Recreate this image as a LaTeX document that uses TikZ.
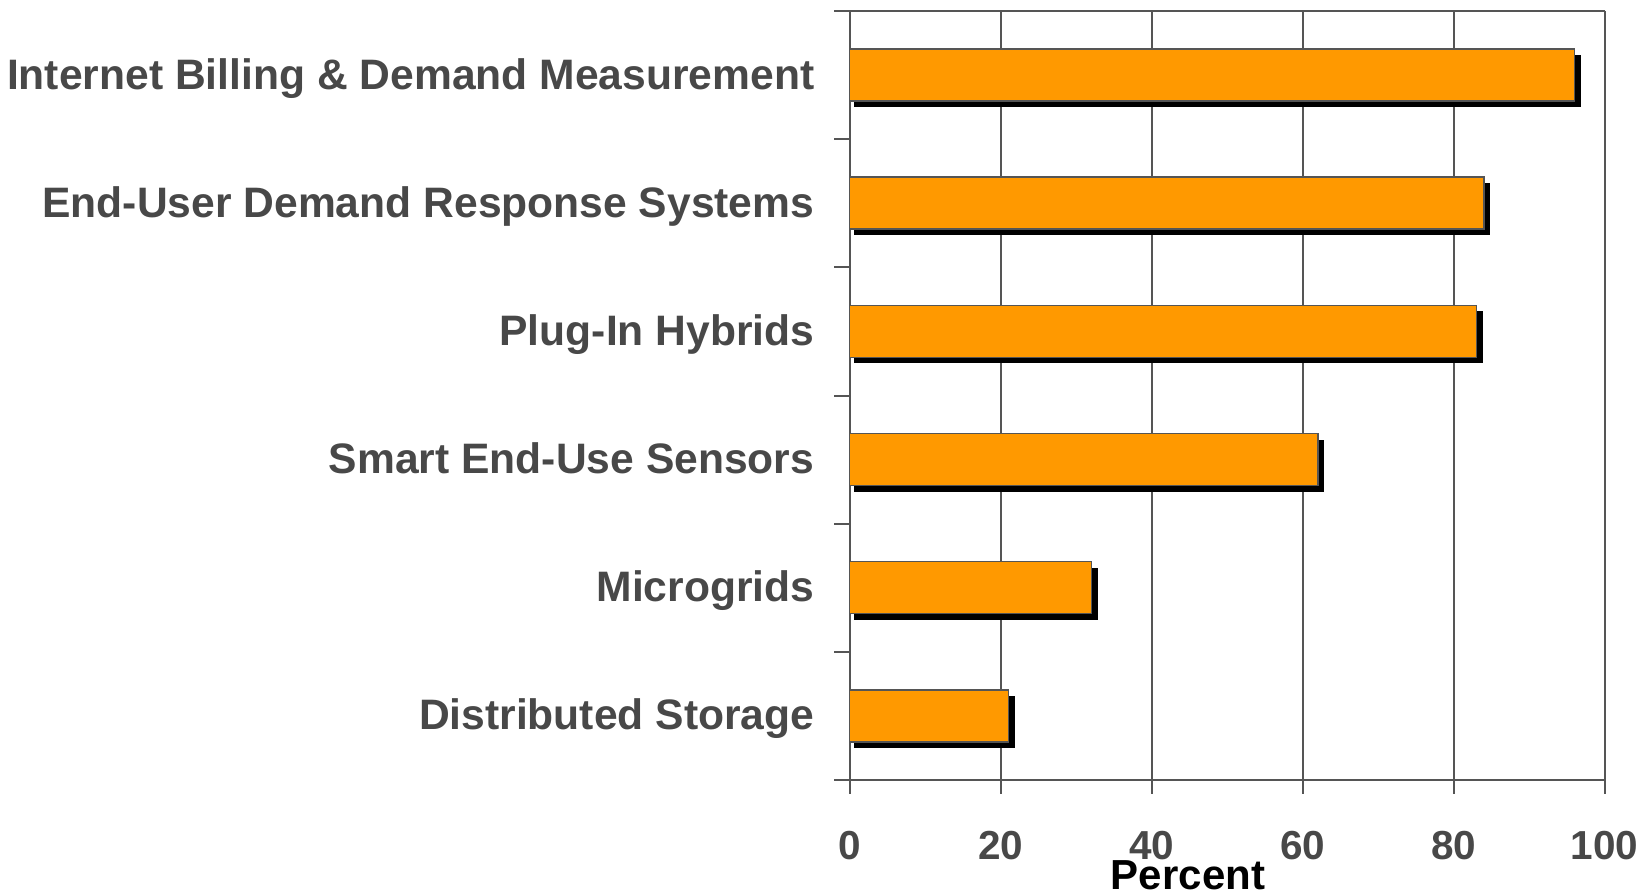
\documentclass[tikz,border=0pt]{standalone}
\usepackage{fontspec}
\setmainfont{Liberation Sans}
\definecolor{barfill}{HTML}{FF9900}
\definecolor{axisgray}{HTML}{555555}
\definecolor{labelgray}{HTML}{484848}
\tikzset{
  gridline/.style={draw=axisgray, line width=2pt},
  barbox/.style={fill=barfill, draw=axisgray, line width=1.5pt},
  barshadow/.style={fill=black},
  catlabel/.style={anchor=base east, inner sep=0pt, text=labelgray,
    font=\fontsize{42.6}{48}\selectfont\bfseries},
  ticklabel/.style={anchor=base, inner sep=0pt, text=labelgray,
    font=\fontsize{40.5}{44}\selectfont\bfseries},
  axistitle/.style={anchor=base, inner sep=0pt, text=black,
    font=\fontsize{42}{46}\selectfont\bfseries}
}
\begin{document}
\begin{tikzpicture}[x=1pt, y=-1pt]
\useasboundingbox (0,0) rectangle (1652,891);
% plot frame: x origin and scale (px per percent), row height
\def\xo{849.7}
\def\ux{7.55}
\def\rowh{128.17}
% vertical grid lines
\foreach \v in {20,40,60,80,100}
  \draw[gridline] ({\xo+\v*\ux},11) -- ({\xo+\v*\ux},794);
% axes
\draw[gridline] (\xo,11) -- (\xo,794);
\draw[gridline] (834,11) -- ({\xo+100*\ux},11);
\draw[gridline] (834,780) -- ({\xo+100*\ux},780);
\foreach \k in {1,...,5}
  \draw[gridline] (834,{11+\k*\rowh}) -- (\xo,{11+\k*\rowh});
% bars with drop shadows and category labels
\foreach \i/\v/\name/\txt in {
  0/96/b1/{Internet Billing \& Demand Measurement},
  1/84/b2/{End-User Demand Response Systems},
  2/83/b3/{Plug-In Hybrids},
  3/62/b4/{Smart End-Use Sensors},
  4/32/b5/{Microgrids},
  5/21/b6/{Distributed Storage}} {
  \pgfmathsetmacro{\yt}{11+\i*\rowh+38}
  \pgfmathsetmacro{\yb}{\yt+52}
  \pgfmathsetmacro{\xe}{\xo+\v*\ux}
  \fill[barshadow] ({\xo+4},{\yt+6}) rectangle ({\xe+6.5},{\yb+6});
  \draw[barbox] (\xo,\yt) rectangle (\xe,\yb);
  \node[catlabel] (\name) at (814.5,{\yt+26+14}) {\txt};
}
% tick labels
\foreach \v in {0,20,40,60,80,100}
  \node[ticklabel] (t\v) at ({\xo+\v*\ux},859) {\v};
\node[axistitle] (xtitle) at (1188,889.5) {Percent};
\end{tikzpicture}
\end{document}
